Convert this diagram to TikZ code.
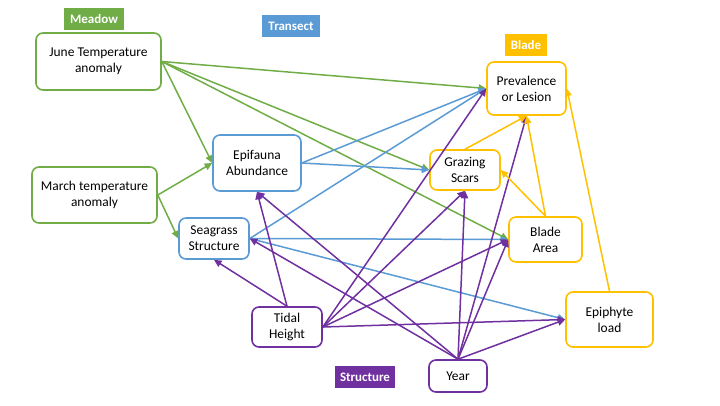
\documentclass[tikz,border=0pt]{standalone}
\usepackage{fontspec}
\setmainfont{Carlito}
\usetikzlibrary{arrows.meta}
\definecolor{meadowgreen}{HTML}{70AD47}
\definecolor{transectblue}{HTML}{5B9BD5}
\definecolor{bladegold}{HTML}{FFC000}
\definecolor{structpurple}{HTML}{7030A0}

\begin{document}
\begin{tikzpicture}[x=1bp,y=-1bp,>={Triangle[length=7.5bp,width=7bp]},line cap=round,line join=round,
  box/.style={draw=#1,line width=1.6bp,rounded corners=7bp,fill=white,align=center,inner sep=0pt,
    font=\fontsize{13.5}{16}\selectfont},
  tag/.style={fill=#1,text=white,inner sep=0pt,minimum height=22bp,font=\fontsize{13}{15}\selectfont\bfseries},
  link/.style={->,draw=#1,fill=#1,line width=1.5bp}]
  \useasboundingbox (0,0) rectangle (720,405);
  \node[tag=meadowgreen,minimum width=60bp] (meadowtag) at (94,19) {Meadow};
  \node[tag=transectblue,minimum width=58bp] (transecttag) at (291,26) {Transect};
  \node[tag=bladegold,minimum width=42bp] (bladetag) at (526,45) {Blade};
  \node[tag=structpurple,minimum width=60bp] (structtag) at (365,377) {Structure};
  \node[box=meadowgreen,minimum width=125bp,minimum height=57bp] (june) at (98.5,61.5) {June Temperature\\anomaly};
  \node[box=meadowgreen,minimum width=125bp,minimum height=56bp] (march) at (94.5,195) {March temperature\\anomaly};
  \node[box=transectblue,minimum width=88bp,minimum height=56bp] (epi) at (257,163) {Epifauna\\Abundance};
  \node[box=transectblue,minimum width=70bp,minimum height=41bp] (seagrass) at (214,238.5) {Seagrass\\Structure};
  \node[box=structpurple,minimum width=70bp,minimum height=40bp] (tidal) at (287,327) {Tidal\\Height};
  \node[box=structpurple,minimum width=58bp,minimum height=32bp] (year) at (458,376) {Year};
  \node[box=bladegold,minimum width=79bp,minimum height=53bp] (prev) at (526.5,88.5) {Prevalence\\or Lesion};
  \node[box=bladegold,minimum width=70bp,minimum height=40bp] (graz) at (465,170) {Grazing\\Scars};
  \node[box=bladegold,minimum width=73bp,minimum height=45bp] (blade) at (545.5,239.5) {Blade\\Area};
  \node[box=bladegold,minimum width=87bp,minimum height=55bp] (epiph) at (609.5,319.5) {Epiphyte\\load};

  \draw[link=meadowgreen] (june.east) -- (epi.west);
  \draw[link=meadowgreen] (june.east) -- (prev.west);
  \draw[link=meadowgreen] (june.east) -- (graz.west);
  \draw[link=meadowgreen] (june.east) -- (blade.west);
  \draw[link=meadowgreen] (march.east) -- (epi.west);
  \draw[link=meadowgreen] (march.east) -- (seagrass.west);

  \draw[link=transectblue] (epi.east) -- (prev.west);
  \draw[link=transectblue] (epi.east) -- (graz.west);
  \draw[link=transectblue] (seagrass.east) -- (prev.west);
  \draw[link=transectblue] (seagrass.east) -- (blade.west);
  \draw[link=transectblue] (seagrass.east) -- (epiph.west);

  \draw[link=structpurple] (tidal.north) -- (seagrass.south);
  \draw[link=structpurple] (tidal.north) -- (epi.south);
  \draw[link=structpurple] (tidal.east) -- (prev.west);
  \draw[link=structpurple] (tidal.east) -- (graz.south);
  \draw[link=structpurple] (tidal.east) -- (blade.west);
  \draw[link=structpurple] (tidal.east) -- (epiph.west);
  \draw[link=structpurple] (year.north) -- (seagrass.east);
  \draw[link=structpurple] (year.north) -- (epi.south);
  \draw[link=structpurple] (year.north) -- (graz.south);
  \draw[link=structpurple] (year.north) -- (prev.south);
  \draw[link=structpurple] (year.north) -- (blade.west);
  \draw[link=structpurple] (year.north) -- (epiph.west);

  \draw[link=bladegold] (graz.north) -- (prev.south);
  \draw[link=bladegold] (blade.north) -- (prev.south);
  \draw[link=bladegold] (blade.north) -- (graz.east);
  \draw[link=bladegold] (epiph.north) -- (prev.east);
\end{tikzpicture}
\end{document}
